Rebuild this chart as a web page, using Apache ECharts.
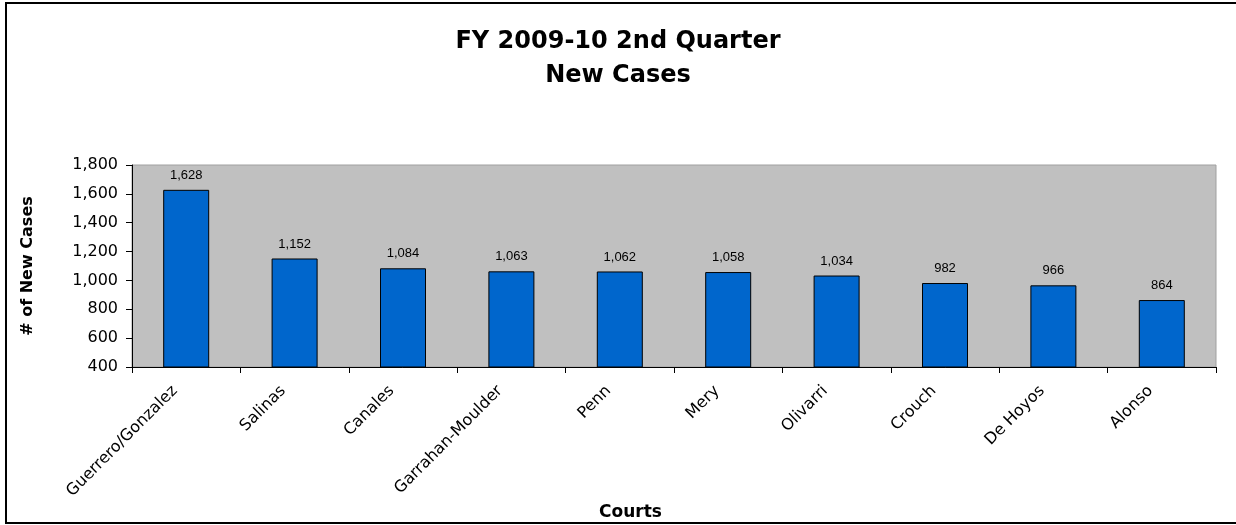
<!DOCTYPE html>
<html>
<head>
<meta charset="utf-8">
<script src="https://cdn.jsdelivr.net/npm/echarts@6/dist/echarts.min.js"></script>
<style>
  html, body { margin: 0; padding: 0; background: #fff; }
  #chart { width: 1236px; height: 525px; }
</style>
</head>
<body>
<div id="chart"></div>
<script>
// courts and new case counts, FY 2009-10 Q2
const courts = ['Guerrero/Gonzalez', 'Salinas', 'Canales', 'Garrahan-Moulder', 'Penn',
    'Mery', 'Olivarri', 'Crouch', 'De Hoyos', 'Alonso'];
const newCases = [1628, 1152, 1084, 1063, 1062, 1058, 1034, 982, 966, 864];
const yTicks = [400, 600, 800, 1000, 1200, 1400, 1600, 1800];

const chart = echarts.init(document.getElementById('chart'));

const fmt = (v) => Number(v).toLocaleString('en-US');

const option = {
    animation: false,
    backgroundColor: '#fff',
    title: [
        {
            text: 'FY 2009-10 2nd Quarter\nNew Cases',
            left: 'center',
            top: 20,
            textStyle: {
                fontFamily: 'DejaVu Sans',
                fontWeight: 'bold',
                fontSize: 24,
                lineHeight: 34,
                color: '#000'
            }
        },
        {
            text: 'Courts',
            left: 594,
            top: 499,
            textStyle: {
                fontFamily: 'DejaVu Sans',
                fontWeight: 'bold',
                fontSize: 17,
                color: '#000'
            }
        }
    ],
    graphic: [
        {
            type: 'rect',
            shape: { x: 6, y: 3, width: 1240, height: 520 },
            style: { fill: 'none', stroke: '#000', lineWidth: 2 },
            silent: true
        }
    ],
    grid: {
        left: 132,
        right: 20,
        top: 165,
        bottom: 158,
        show: true,
        backgroundColor: '#C0C0C0',
        borderColor: '#A0A0A0',
        borderWidth: 1
    },
    xAxis: {
        type: 'category',
        data: courts,
        axisLine: { lineStyle: { color: '#000', width: 1 } },
        axisTick: { show: true, length: 6, lineStyle: { color: '#000' } },
        axisLabel: {
            interval: 0,
            rotate: 45,
            margin: 10,
            padding: [0, 16, 0, 0],
            fontFamily: 'DejaVu Sans',
            fontSize: 16,
            color: '#000'
        }
    },
    yAxis: {
        type: 'value',
        min: yTicks[0],
        max: yTicks[yTicks.length - 1],
        interval: 200,
        name: '# of New Cases',
        nameLocation: 'middle',
        nameGap: 96,
        nameTextStyle: {
            fontFamily: 'DejaVu Sans',
            fontWeight: 'bold',
            fontSize: 16,
            color: '#000'
        },
        splitLine: { show: false },
        axisLine: { show: true, lineStyle: { color: '#000', width: 1 } },
        axisTick: { show: true, length: 6, lineStyle: { color: '#000' } },
        axisLabel: {
            margin: 14,
            fontFamily: 'DejaVu Sans',
            fontSize: 16,
            color: '#000',
            formatter: fmt
        }
    },
    series: [
        {
            type: 'bar',
            data: newCases,
            barWidth: 46,
            itemStyle: {
                color: '#0066CC',
                borderColor: '#000',
                borderWidth: 1
            },
            label: {
                show: true,
                position: 'top',
                distance: 8,
                fontFamily: 'Liberation Sans',
                fontSize: 13,
                color: '#000',
                formatter: (p) => fmt(p.value)
            }
        }
    ]
};

chart.setOption(option);
</script>
</body>
</html>
